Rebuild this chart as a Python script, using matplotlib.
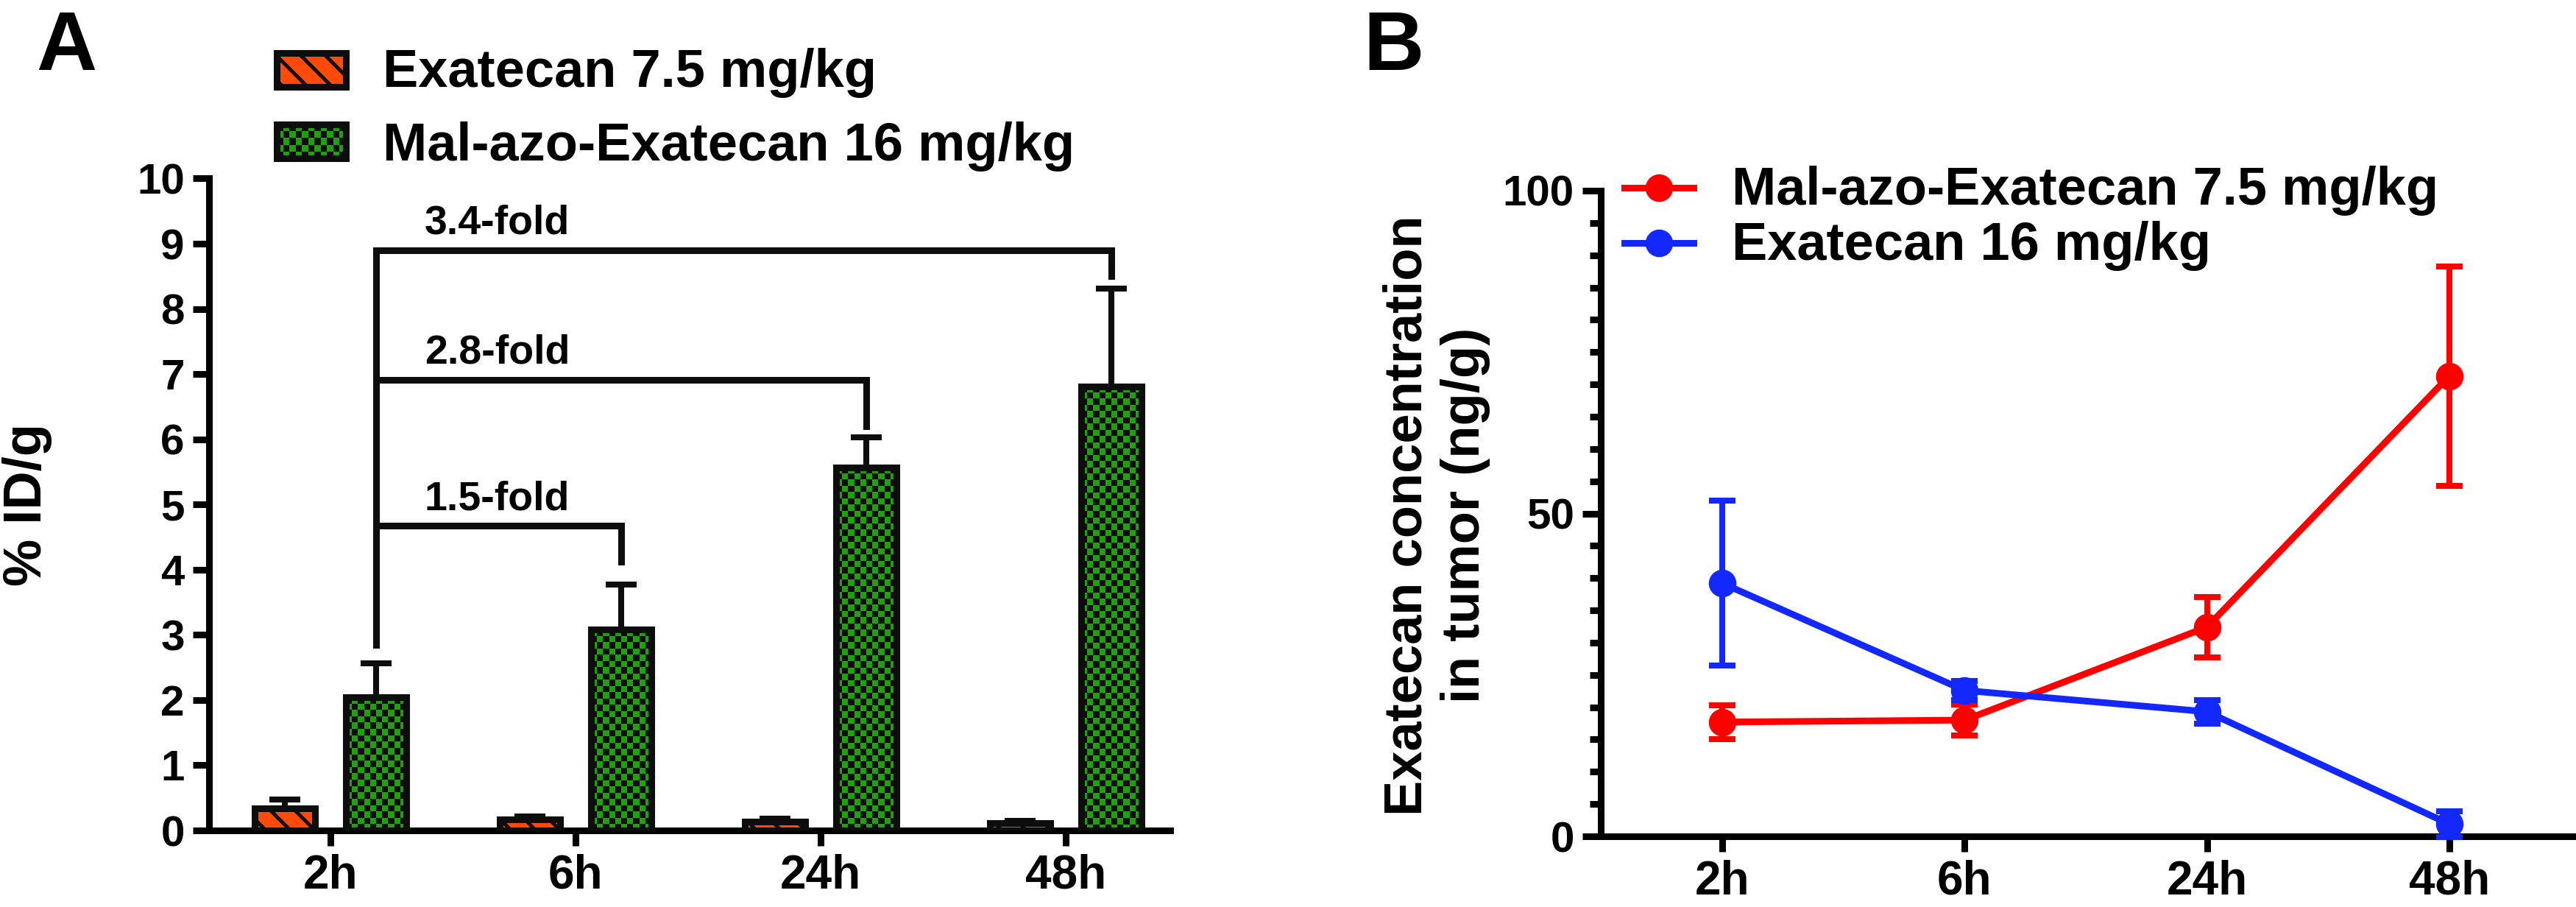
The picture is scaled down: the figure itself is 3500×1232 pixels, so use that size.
import numpy as np
import matplotlib
matplotlib.use('agg')
from matplotlib import pyplot as plt
from matplotlib.colors import ListedColormap
from matplotlib.lines import Line2D
from matplotlib.patches import Rectangle
from matplotlib.ticker import MultipleLocator

plt.rcParams['font.family'] = ['Liberation Sans', 'DejaVu Sans']
plt.rcParams['font.weight'] = 'bold'
plt.rcParams['hatch.linewidth'] = 3.6

# ==================
# Data
# ==================
times = ['2h', '6h', '24h', '48h']

# panel A, % ID/g
bar_names = ['Exatecan 7.5 mg/kg', 'Mal-azo-Exatecan 16 mg/kg']
exa_bar_mean = [0.34, 0.17, 0.14, 0.11]
exa_bar_sd = [0.13, 0.05, 0.04, 0.04]
mal_bar_mean = [2.04, 3.08, 5.57, 6.81]
mal_bar_sd = [0.52, 0.69, 0.46, 1.50]

# fold-change brackets, all start from the 2h green bar
fold_labels = ['1.5-fold', '2.8-fold', '3.4-fold']
fold_target = [1, 2, 3]
fold_top = [4.67, 6.91, 8.90]
fold_leg_end = [4.12, 6.20, 8.50]
fold_start = 2.85

# panel B, ng/g in tumor
line_names = ['Mal-azo-Exatecan 7.5 mg/kg', 'Exatecan 16 mg/kg']
mal_line_mean = [17.7, 18.0, 32.4, 71.3]
mal_line_sd = [2.6, 2.4, 4.7, 17.0]
exa_line_mean = [39.2, 22.6, 19.3, 1.9]
exa_line_sd = [12.8, 1.5, 1.8, 2.0]

ORANGE = '#ff4a0a'
GREEN = '#1fa00c'
DARK = '#0d0d0d'
RED = '#ff0000'
BLUE = '#1228ff'
LW = 6.5     # axes, bar edges, brackets
ELW = 5.8    # error bars

W, H = 3500, 1232


def fx(x):
    return x / W


def fy(y):
    return 1 - y / H


def checker(ax, patch, cell_px=8.5):
    """Fill a rectangle patch with a black/green checkerboard."""
    x0, y0 = patch.get_x(), patch.get_y()
    w, h = patch.get_width(), patch.get_height()
    (px0, py0), (px1, py1) = ax.transData.transform([(x0, y0), (x0 + w, y0 + h)])
    nx = max(1, int(round(abs(px1 - px0) / cell_px)))
    ny = max(1, int(round(abs(py1 - py0) / cell_px)))
    board = np.indices((ny, nx)).sum(axis=0) % 2
    im = ax.imshow(board, cmap=ListedColormap([DARK, GREEN]), extent=(x0, x0 + w, y0, y0 + h),
                   origin='lower', aspect='auto', interpolation='nearest',
                   zorder=patch.get_zorder() - 0.1)
    im.set_clip_path(patch)
    return im


fig = plt.figure(figsize=(35, 12.32), dpi=100)

# ==================
# Panel A
# ==================
a_left, a_right = 284, 1590
axA = fig.add_axes([fx(a_left), fy(1128), fx(a_right) - fx(a_left), fy(242.5) - fy(1128)])
xa = np.arange(len(times))
bw = 0.246
off = 0.186
axA.set_xlim(-0.4955, 3.426)
axA.set_ylim(0, 10)

axA.errorbar(xa - off, exa_bar_mean, yerr=[np.zeros(4), exa_bar_sd], fmt='none', ecolor=DARK,
             elinewidth=ELW, capsize=15, capthick=ELW, zorder=2)
axA.errorbar(xa + off, mal_bar_mean, yerr=[np.zeros(4), mal_bar_sd], fmt='none', ecolor=DARK,
             elinewidth=ELW, capsize=15, capthick=ELW, zorder=2)
axA.bar(xa - off, exa_bar_mean, bw, color=ORANGE, edgecolor=DARK, hatch='\\', linewidth=LW, zorder=3)
green_bars = axA.bar(xa + off, mal_bar_mean, bw, facecolor='none', edgecolor=DARK, linewidth=LW, zorder=3)
for b in green_bars:
    checker(axA, b)
axA.set_xlim(-0.4955, 3.426)
axA.set_ylim(0, 10)

# brackets
x_left = xa[0] + off
for lab, t, top, end in zip(fold_labels, fold_target, fold_top, fold_leg_end):
    xr = xa[t] + off
    axA.plot([x_left, x_left, xr, xr], [fold_start, top, top, end], color=DARK, lw=LW,
             solid_joinstyle='miter', clip_on=False, zorder=4)
    axA.text(0.68, top + 0.25, lab, ha='center', va='baseline', fontsize=40)

axA.set_xticks(xa)
axA.set_xticklabels(times)
axA.set_yticks(np.arange(0, 11, 1))
axA.spines[['top', 'right']].set_visible(False)
axA.spines[['left', 'bottom']].set_linewidth(LW)
axA.tick_params(axis='x', length=15, width=LW, pad=8, labelsize=46)
axA.tick_params(axis='y', length=16, width=LW, pad=8, labelsize=42)
axA.text((37 - a_left) / (a_right - a_left), 0.5, '% ID/g', transform=axA.transAxes,
         rotation=90, ha='center', va='center', fontsize=52)

# legend A
swatches = [(376, 72, 470, 118), (376, 169, 470, 215)]
for i, (l, t, r, b) in enumerate(swatches):
    sax = fig.add_axes([fx(l), fy(b), fx(r) - fx(l), fy(t) - fy(b)])
    sax.set_xlim(0, 1)
    sax.set_ylim(0, 1)
    sax.axis('off')
    if i == 0:
        sw = Rectangle((0, 0), 1, 1, facecolor=ORANGE, edgecolor=DARK, hatch='\\', linewidth=LW,
                       clip_on=False, zorder=3)
        sax.add_patch(sw)
    else:
        sw = Rectangle((0, 0), 1, 1, facecolor='none', edgecolor=DARK, linewidth=LW,
                       clip_on=False, zorder=3)
        sax.add_patch(sw)
        checker(sax, sw)
        sax.set_xlim(0, 1)
        sax.set_ylim(0, 1)
fig.text(fx(520), fy(118), bar_names[0], ha='left', va='baseline', fontsize=52)
fig.text(fx(520), fy(218), bar_names[1], ha='left', va='baseline', fontsize=52)

# ==================
# Panel B
# ==================
b_left = 2175
axB = fig.add_axes([fx(b_left), fy(1136), 1 - fx(b_left), fy(259) - fy(1136)])
xb = np.arange(len(times))
axB.errorbar(xb, mal_line_mean, yerr=mal_line_sd, color=RED, lw=LW, marker='o', ms=26,
             elinewidth=ELW, capsize=13, capthick=ELW, clip_on=False, zorder=3)
axB.errorbar(xb, exa_line_mean, yerr=exa_line_sd, color=BLUE, lw=LW, marker='o', ms=26,
             elinewidth=ELW, capsize=13, capthick=ELW, clip_on=False, zorder=4)
axB.set_xlim(-0.501, 3.523)
axB.set_ylim(0, 100)
axB.set_xticks(xb)
axB.set_xticklabels(times)
axB.set_yticks([0, 50, 100])
axB.yaxis.set_minor_locator(MultipleLocator(5))
axB.spines[['top', 'right']].set_visible(False)
axB.spines[['left', 'bottom']].set_linewidth(LW)
axB.tick_params(axis='x', length=15, width=LW, pad=8, labelsize=46)
axB.tick_params(axis='y', which='major', length=18, width=LW, pad=8, labelsize=42)
axB.tick_params(axis='y', which='minor', length=11, width=LW)
axB.text((1952 - b_left) / (W - b_left), 0.497, 'Exatecan concentration\nin tumor (ng/g)',
         transform=axB.transAxes, rotation=90, ha='center', va='center',
         multialignment='center', fontsize=52)

# legend B
for name, col, yrow, ybase in zip(line_names, [RED, BLUE], [255, 330], [278, 353]):
    fig.add_artist(Line2D([fx(2207), fx(2254), fx(2301)], [fy(yrow)] * 3, color=col, lw=LW,
                          marker='o', ms=26, markevery=[1], transform=fig.transFigure))
    fig.text(fx(2353), fy(ybase), name, ha='left', va='baseline', fontsize=52)

# panel letters
fig.text(fx(49), fy(95), 'A', ha='left', va='baseline', fontsize=82)
fig.text(fx(1852), fy(95), 'B', ha='left', va='baseline', fontsize=82)

fig.savefig('out.png', dpi=100)
